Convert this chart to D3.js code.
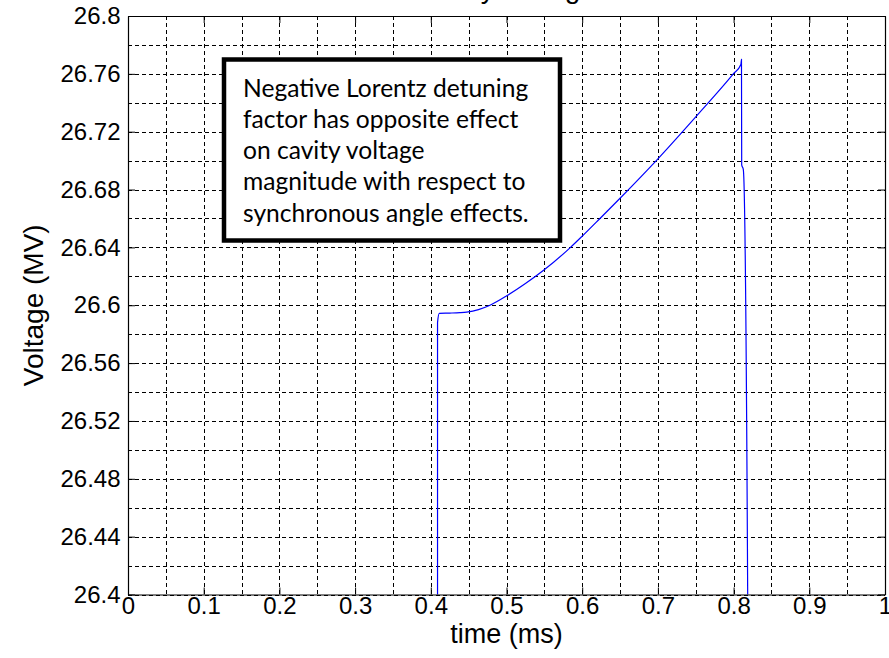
<!DOCTYPE html>
<html>
<head>
<meta charset="utf-8">
<script src="https://cdn.jsdelivr.net/npm/d3@7"></script>
<style>
  body { margin: 0; background: #fff; }
  svg { display: block; }
</style>
</head>
<body>
<div id="my_dataviz"></div>
<script>
var margin = {top: 16, right: 4, bottom: 63.5, left: 128},
  width = 889 - margin.left - margin.right,
  height = 658 - margin.top - margin.bottom;

// values
var timeMs = [0.4089, 0.4089, 0.4112, 0.4250, 0.4386, 0.4474, 0.4630, 0.4782, 0.5003, 0.5250,
  0.5486, 0.5839, 0.5993, 0.6235, 0.6500, 0.6997, 0.7500, 0.7996, 0.8096, 0.8104,
  0.8107, 0.8128, 0.8186, 0.8190];
var voltageMV = [26.30, 26.588, 26.5944, 26.5946, 26.5949, 26.5953, 26.5970, 26.6000, 26.6065, 26.6150,
  26.6240, 26.6397, 26.6474, 26.6600, 26.6740, 26.7011, 26.7303, 26.7600, 26.7665, 26.7700,
  26.697, 26.694, 26.400, 26.30];

var xTicks = [0, 0.1, 0.2, 0.3, 0.4, 0.5, 0.6, 0.7, 0.8, 0.9, 1];
var xTickLabels = ["0", "0.1", "0.2", "0.3", "0.4", "0.5", "0.6", "0.7", "0.8", "0.9", "1"];
var yTicks = [26.4, 26.44, 26.48, 26.52, 26.56, 26.6, 26.64, 26.68, 26.72, 26.76, 26.8];
var yTickLabels = ["26.4", "26.44", "26.48", "26.52", "26.56", "26.6", "26.64", "26.68", "26.72", "26.76", "26.8"];

var noteLines = ["Negative Lorentz detuning",
  "factor has opposite effect",
  "on cavity voltage",
  "magnitude with respect to",
  "synchronous angle effects."];

var data = timeMs.map(function(t, i) { return {t: t, v: voltageMV[i]}; });

var svg = d3.select("#my_dataviz")
  .append("svg")
  .attr("width", width + margin.left + margin.right)
  .attr("height", height + margin.top + margin.bottom)
  .append("g")
  .attr("transform", "translate(" + margin.left + "," + margin.top + ")");

var x = d3.scaleLinear().domain([0, 1]).range([0, width]);
var y = d3.scaleLinear().domain([26.4, 26.8]).range([height, 0]);

// title, mostly cut off by the top of the picture
svg.append("text")
  .attr("x", width / 2)
  .attr("y", -18)
  .attr("text-anchor", "middle")
  .style("font-family", "Liberation Sans, Arial, sans-serif")
  .style("font-size", "28px")
  .text("Cavity Voltage");

// dashed grid
var grid = svg.append("g").attr("class", "grid")
  .style("stroke", "#000")
  .style("stroke-width", 1)
  .style("stroke-dasharray", "4,3");
grid.selectAll(".gx")
  .data(x.ticks(20))
  .enter().append("line")
  .attr("x1", function(d) { return Math.round(x(d)) + 0.5; })
  .attr("x2", function(d) { return Math.round(x(d)) + 0.5; })
  .attr("y1", 0)
  .attr("y2", height);
grid.selectAll(".gy")
  .data(y.ticks(20))
  .enter().append("line")
  .attr("y1", function(d) { return Math.round(y(d)) + 0.5; })
  .attr("y2", function(d) { return Math.round(y(d)) + 0.5; })
  .attr("x1", 0)
  .attr("x2", width);

// curve
svg.append("clipPath").attr("id", "clip")
  .append("rect").attr("width", width).attr("height", height);

svg.append("path")
  .datum(data)
  .attr("clip-path", "url(#clip)")
  .attr("fill", "none")
  .attr("stroke", "#0000ff")
  .attr("stroke-width", 1.2)
  .attr("d", d3.line()
    .curve(d3.curveMonotoneX)
    .x(function(d) { return x(d.t); })
    .y(function(d) { return y(d.v); }));

// axes, ticks pointing inwards on all four sides
var tickFont = "Liberation Sans, Arial, sans-serif";
svg.append("g")
  .attr("transform", "translate(0," + height + ")")
  .call(d3.axisBottom(x).tickValues(xTicks)
    .tickFormat(function(d, i) { return xTickLabels[i]; })
    .tickSizeInner(-7).tickSizeOuter(0).tickPadding(2));
svg.append("g")
  .call(d3.axisLeft(y).tickValues(yTicks)
    .tickFormat(function(d, i) { return yTickLabels[i]; })
    .tickSizeInner(-7).tickSizeOuter(0).tickPadding(7.5));
svg.append("g")
  .call(d3.axisTop(x).tickValues(xTicks).tickFormat("").tickSizeInner(-7).tickSizeOuter(0));
svg.append("g")
  .attr("transform", "translate(" + width + ",0)")
  .call(d3.axisRight(y).tickValues(yTicks).tickFormat("").tickSizeInner(-7).tickSizeOuter(0));

svg.selectAll(".domain").attr("stroke", "#000").attr("stroke-width", 1.2);
svg.selectAll(".tick line").attr("stroke", "#000");
svg.selectAll(".tick text")
  .style("font-family", tickFont)
  .style("font-size", "24px")
  .attr("fill", "#000");

// axis labels
svg.append("text")
  .attr("x", width / 2)
  .attr("y", height + 48)
  .attr("text-anchor", "middle")
  .style("font-family", tickFont)
  .style("font-size", "27px")
  .text("time (ms)");

svg.append("text")
  .attr("transform", "translate(" + (43 - margin.left) + "," + (height / 2) + ") rotate(-90)")
  .attr("text-anchor", "middle")
  .style("font-family", tickFont)
  .style("font-size", "28px")
  .text("Voltage (MV)");

// annotation box
var note = svg.append("g")
  .attr("transform", "translate(" + (224 - margin.left) + "," + (59.5 - margin.top) + ")");
note.append("rect")
  .attr("width", 336)
  .attr("height", 181)
  .attr("fill", "#fff")
  .attr("stroke", "#000")
  .attr("stroke-width", 4.5);
note.selectAll(".note")
  .data(noteLines)
  .enter().append("text")
  .attr("x", 19)
  .attr("y", function(d, i) { return 37.2 + i * 31.2; })
  .style("font-family", "Lato, 'Open Sans', sans-serif")
  .style("font-size", "24.6px")
  .attr("fill", "#000")
  .text(function(d) { return d; });
</script>
</body>
</html>
